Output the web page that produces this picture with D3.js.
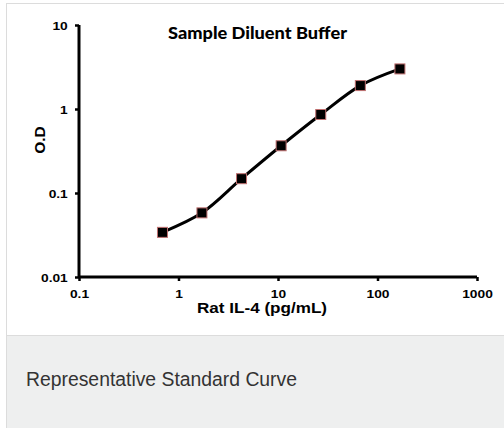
<!DOCTYPE html>
<html>
<head>
<meta charset="utf-8">
<script src="https://cdn.jsdelivr.net/npm/d3@7"></script>
<style>
  body { margin: 0; background: #fff; }
  svg { display: block; }
</style>
</head>
<body>
<svg id="chart" width="504" height="428"></svg>
<script>
// standard curve points (pg/mL vs O.D)
var concentrations = [0.69, 1.72, 4.3, 10.75, 26.9, 67.2, 168];
var odValues = [0.034, 0.058, 0.148, 0.365, 0.86, 1.9, 3.0];
var xTicks = [0.1, 1, 10, 100, 1000];
var yTicks = [0.01, 0.1, 1, 10];

var svg = d3.select("#chart");

// page frame
svg.append("rect").attr("x", 0).attr("y", 0).attr("width", 504).attr("height", 428).attr("fill", "#fff");
svg.append("rect")
  .attr("x", 6.5).attr("y", 3.5).attr("width", 510).attr("height", 440)
  .attr("fill", "#eeefef").attr("stroke", "#dcdcdc");
svg.append("rect")
  .attr("x", 7).attr("y", 4).attr("width", 510).attr("height", 331)
  .attr("fill", "#fff");
svg.append("line")
  .attr("x1", 7).attr("x2", 510).attr("y1", 335.5).attr("y2", 335.5)
  .attr("stroke", "#dcdcdc");

svg.append("text")
  .attr("x", 26).attr("y", 386)
  .attr("font-family", "Liberation Sans, Arial, sans-serif")
  .attr("font-size", 20)
  .attr("fill", "#333")
  .attr("textLength", 271)
  .attr("lengthAdjust", "spacingAndGlyphs")
  .text("Representative Standard Curve");

var x = d3.scaleLog().domain([0.1, 1000]).range([79, 477]),
    y = d3.scaleLog().domain([0.01, 10]).range([277, 25]);

var g = svg.append("g");

// the picture is a bit stretched sideways, so are its labels
function styleTicks(a) {
  a.selectAll(".tick line").attr("stroke-width", 2.5);
  a.selectAll("text")
    .attr("font-family", "Liberation Sans, Arial, sans-serif")
    .attr("font-weight", "bold").attr("font-size", 11).attr("fill", "#000")
    .attr("transform", "scale(1.25,1)");
}

g.append("g")
  .attr("transform", "translate(0,277)")
  .call(d3.axisBottom(x).tickValues(xTicks).tickSize(4).tickPadding(9)
    .tickFormat(function(d) { return d3.format("~g")(d); }))
  .call(function(a) {
    a.select(".domain").attr("stroke-width", 3).attr("d", "M79,0H477");
    styleTicks(a);
  });

g.append("g")
  .attr("transform", "translate(79,0)")
  .call(d3.axisLeft(y).tickValues(yTicks).tickSize(4).tickPadding(5)
    .tickFormat(function(d) { return d3.format("~g")(d); }))
  .call(function(a) {
    a.select(".domain").attr("stroke-width", 3).attr("d", "M0,25V277");
    styleTicks(a);
    a.selectAll("text").attr("dy", "0.45em");
  });

g.append("text")
  .attr("x", 168).attr("y", 39)
  .attr("font-family", "Lato, Calibri, sans-serif")
  .attr("font-weight", 900).attr("font-size", 16)
  .attr("textLength", 179)
  .attr("lengthAdjust", "spacingAndGlyphs")
  .text("Sample Diluent Buffer");

g.append("text")
  .attr("x", 197).attr("y", 313)
  .attr("font-family", "Liberation Sans, Arial, sans-serif")
  .attr("font-weight", "bold").attr("font-size", 14)
  .attr("textLength", 130)
  .attr("lengthAdjust", "spacingAndGlyphs")
  .text("Rat IL-4 (pg/mL)");

g.append("text")
  .attr("transform", "translate(45,140) rotate(-90)")
  .attr("text-anchor", "middle")
  .attr("font-family", "Liberation Sans, Arial, sans-serif")
  .attr("font-weight", "bold").attr("font-size", 15.5)
  .text("O.D");

var pts = concentrations.map(function(c, i) { return [c, odValues[i]]; });

var line = d3.line()
  .x(function(d) { return x(d[0]); })
  .y(function(d) { return y(d[1]); })
  .curve(d3.curveCatmullRom);

g.append("path")
  .datum(pts)
  .attr("fill", "none")
  .attr("stroke", "#000")
  .attr("stroke-width", 3)
  .attr("d", line);

g.selectAll("rect.pt")
  .data(pts)
  .enter().append("rect")
  .attr("class", "pt")
  .attr("x", function(d) { return x(d[0]) - 5; })
  .attr("y", function(d) { return y(d[1]) - 5; })
  .attr("width", 10).attr("height", 10)
  .attr("fill", "#000")
  .attr("stroke", "#c07070")
  .attr("stroke-width", 1);
</script>
</body>
</html>
